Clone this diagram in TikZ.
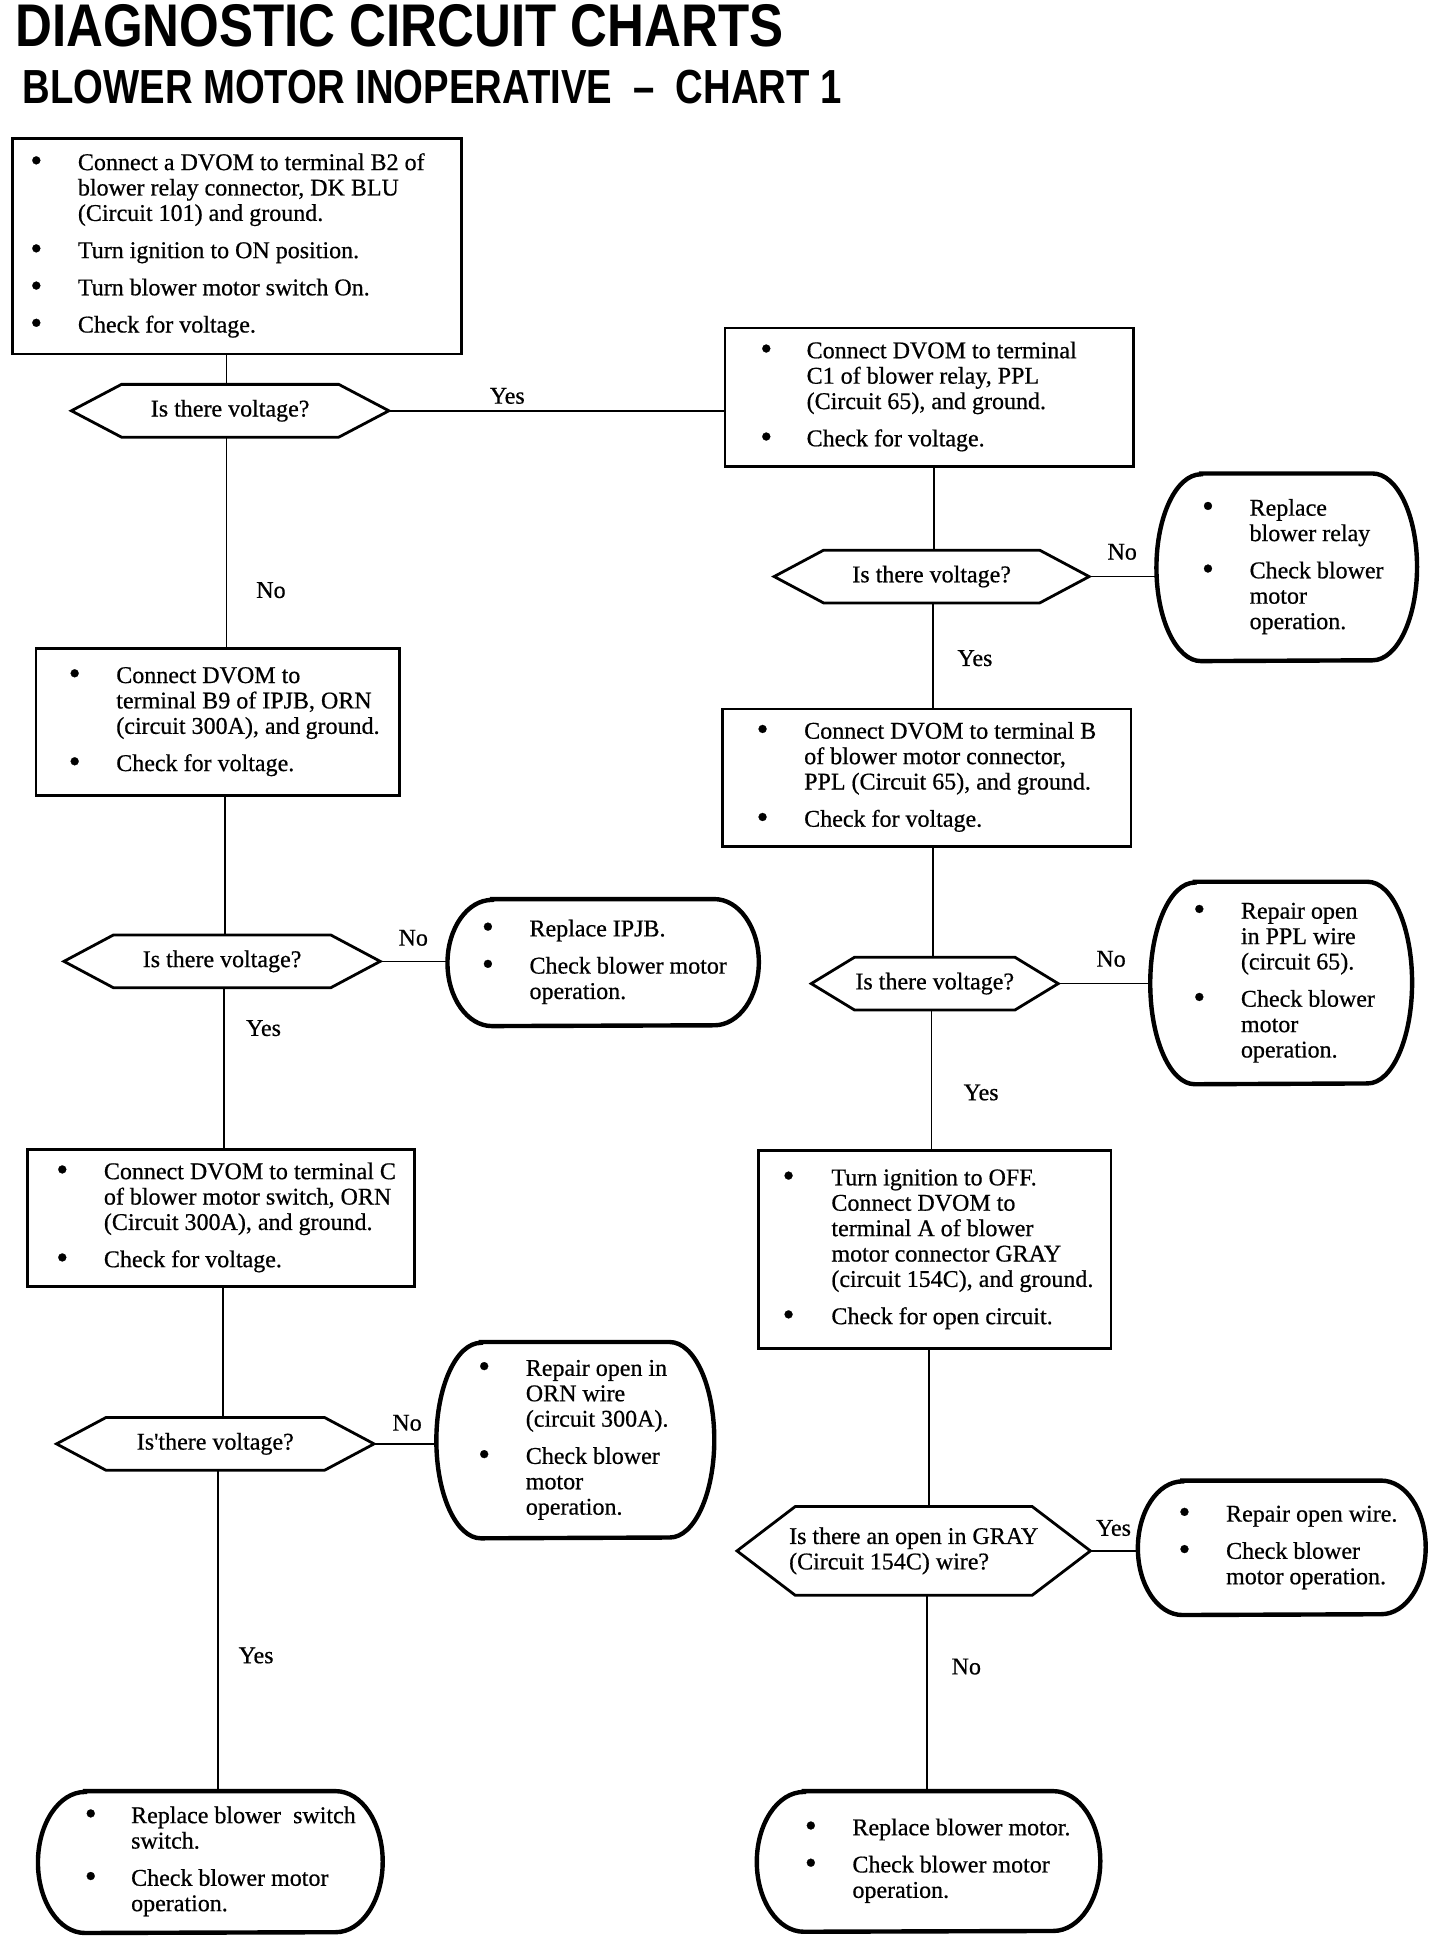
\documentclass[tikz,border=0pt]{standalone}
\usepackage{fontspec}
\setmainfont{Liberation Serif}
\newfontfamily\bodyfont{Liberation Serif}[FakeBold=0.6]
\newfontfamily\titlefont{Liberation Sans}
\usepackage{graphicx}
\usetikzlibrary{calc}
\newlength\dpx \setlength\dpx{0.61855pt}
\newlength\bsep \setlength\bsep{5.9pt}
\newcommand\blist[4]{\makebox[#1\dpx][l]{\hspace*{#2\dpx}\begin{tabular}{@{}p{#3\dpx}@{}l@{}}#4\end{tabular}}}
\newcommand\bul{\raisebox{-0.7pt}{\scalebox{1.4}{\textbullet}}}
\newcommand\hexdraw[2]{\draw[hexline] (#1.west) -- ($(#1.north west)+(#2,0)$) -- ($(#1.north east)+(-#2,0)$) -- (#1.east) -- ($(#1.south east)+(-#2,0)$) -- ($(#1.south west)+(#2,0)$) -- cycle;}
\newcommand\barreldraw[3]{\draw[barline] ($(#1.north west)+(#2,0)$) -- ($(#1.north east)+(-#2,0)$) arc[start angle=90,end angle=-90,x radius=#2,y radius=#3] -- ($(#1.south west)+(#2,0)$) arc[start angle=270,end angle=90,x radius=#2,y radius=#3] -- cycle;}
\newcommand\vconn[3]{\draw[conn] ($(#1.south)+(#3,0)$) coordinate (tmp) -- (tmp |- #2.north);}
\tikzset{
 txt/.style={font=\bodyfont\fontsize{12}{12.7}\selectfont, inner sep=0pt, text=black},
 sz/.style 2 args={minimum width={#1*0.61855pt}, minimum height={#2*0.61855pt}},
 rbox/.style={txt, draw, line width=1.3pt},
 hexnode/.style={txt, align=center},
 barnode/.style={txt},
 conn/.style={line width=0.8pt},
 hexline/.style={line width=1.4pt, line join=miter},
 barline/.style={line width=2.2pt},
 lbl/.style={txt},
}
\begin{document}
\begin{tikzpicture}[x=0.61855pt,y=0.61855pt]
\fill[white] (0,0) rectangle (1164,-1568);
\useasboundingbox (0,0) rectangle (1164,-1568);

% titles
\node[anchor=south west, inner sep=0pt] (t1) at (12,-38) {\resizebox{621\dpx}{34\dpx}{\titlefont\bfseries DIAGNOSTIC CIRCUIT CHARTS}};
\node[anchor=south west, inner sep=0pt] (t2) at (18,-84) {\resizebox{662\dpx}{27\dpx}{\titlefont\bfseries BLOWER MOTOR INOPERATIVE\ \ \textendash\ \ CHART 1}};

% rectangular boxes
\node[rbox, sz={363}{174}] (b1) at (191.5,-199) {\blist{363}{14.6}{38.4}{\bul & Connect a DVOM to terminal B2 of\\ & blower relay connector, DK BLU\\ & (Circuit 101) and ground.\\[\bsep] \bul & Turn ignition to ON position.\\[\bsep] \bul & Turn blower motor switch On.\\[\bsep] \bul & Check for voltage.}};
\node[rbox, sz={330}{112}] (r1) at (751,-321) {\blist{330}{28.6}{37.4}{\bul & Connect DVOM to terminal\\ & C1 of blower relay, PPL\\ & (Circuit 65), and ground.\\[\bsep] \bul & Check for voltage.}};
\node[rbox, sz={294}{119}] (l2) at (176,-583.5) {\blist{294}{26.6}{38.4}{\bul & Connect DVOM to\\ & terminal B9 of IPJB, ORN\\ & (circuit 300A), and ground.\\[\bsep] \bul & Check for voltage.}};
\node[rbox, sz={330}{111}] (r2) at (749,-628.5) {\blist{330}{27.6}{38.4}{\bul & Connect DVOM to terminal B\\ & of blower motor connector,\\ & PPL (Circuit 65), and ground.\\[\bsep] \bul & Check for voltage.}};
\node[rbox, sz={313}{111}] (l3) at (178.5,-984.5) {\blist{313}{23.6}{38.4}{\bul & Connect DVOM to terminal C\\ & of blower motor switch, ORN\\ & (Circuit 300A), and ground.\\[\bsep] \bul & Check for voltage.}};
\node[rbox, sz={285}{160}] (r3) at (755.5,-1010) {\blist{285}{19.6}{39.4}{\bul & Turn ignition to OFF.\\ & Connect DVOM to\\ & terminal A of blower\\ & motor connector GRAY\\ & (circuit 154C), and ground.\\[\bsep] \bul & Check for open circuit.}};

% decisions
\node[hexnode, sz={256}{42}] (d1) at (186,-332) {Is there voltage?};
\hexdraw{d1}{40.5}
\node[hexnode, sz={254}{42}] (dr1) at (753,-466) {Is there voltage?};
\hexdraw{dr1}{40}
\node[hexnode, sz={255}{42}] (dl2) at (179.5,-777) {Is there voltage?};
\hexdraw{dl2}{40}
\node[hexnode, sz={199}{42}] (dr2) at (755.5,-795) {Is there voltage?};
\hexdraw{dr2}{35}
\node[hexnode, sz={256}{42}] (dl3) at (174,-1167) {Is'there voltage?};
\hexdraw{dl3}{40}
\node[hexnode, sz={285}{71}, align=left] (dr4) at (738.5,-1253.5) {Is there an open in GRAY\\(Circuit 154C) wire?};
\hexdraw{dr4}{47}

% rounded end boxes
\node[barnode, sz={210}{151}] (rr1) at (1040,-458.5) {\blist{210}{36.6}{38.4}{\bul & Replace\\ & blower relay\\[\bsep] \bul & Check blower\\ & motor\\ & operation.}};
\barreldraw{rr1}{36}{75.5}
\node[barnode, sz={251}{102}] (rl2) at (487.5,-778) {\blist{251}{27.6}{38.4}{\bul & Replace IPJB.\\[\bsep] \bul & Check blower motor\\ & operation.}};
\barreldraw{rl2}{36}{51}
\node[barnode, sz={211}{163}] (rr2) at (1035.5,-794.5) {\blist{211}{34.6}{38.4}{\bul & Repair open\\ & in PPL wire\\ & (circuit 65).\\[\bsep] \bul & Check blower\\ & motor\\ & operation.}};
\barreldraw{rr2}{36}{81.5}
\node[barnode, sz={224}{158}] (rl3) at (465,-1164) {\blist{224}{33.6}{38.4}{\bul & Repair open in\\ & ORN wire\\ & (circuit 300A).\\[\bsep] \bul & Check blower\\ & motor\\ & operation.}};
\barreldraw{rl3}{36}{79}
\node[barnode, sz={232}{108}] (rr3) at (1036,-1251) {\blist{232}{32.6}{38.4}{\bul & Repair open wire.\\[\bsep] \bul & Check blower\\ & motor operation.}};
\barreldraw{rr3}{36}{54}
\node[barnode, sz={278}{114}] (bl) at (170,-1505) {\blist{278}{37.6}{37.4}{\bul & Replace blower\ \ switch\\ & switch.\\[\bsep] \bul & Check blower motor\\ & operation.}};
\barreldraw{bl}{38}{57}
\node[barnode, sz={277}{113}] (br) at (750.5,-1504.5) {\blist{277}{38.6}{38.4}{\bul & Replace blower motor.\\[\bsep] \bul & Check blower motor\\ & operation.}};
\barreldraw{br}{38}{56.5}

% vertical connectors
\vconn{b1}{d1}{-8.5}
\vconn{d1}{l2}{-3}
\vconn{l2}{dl2}{6}
\vconn{dl2}{l3}{1.5}
\vconn{l3}{dl3}{1.5}
\vconn{dl3}{bl}{2}
\vconn{r1}{dr1}{4}
\vconn{dr1}{r2}{1}
\vconn{r2}{dr2}{5}
\vconn{dr2}{r3}{-2.5}
\vconn{r3}{dr4}{-4.5}
\vconn{dr4}{br}{10.5}

% horizontal connectors
\draw[conn] (d1.east) -- (d1.east -| r1.west);
\draw[conn] (dr1.east) -- (dr1.east -| rr1.west);
\draw[conn] (dl2.east) -- (dl2.east -| rl2.west);
\draw[conn] (dr2.east) -- (dr2.east -| rr2.west);
\draw[conn] (dl3.east) -- (dl3.east -| rl3.west);
\draw[conn] (dr4.east) -- (dr4.east -| rr3.west);

% labels
\node[lbl] (y1) at (410,-320) {Yes};
\node[lbl] (n1) at (219,-477) {No};
\node[lbl] (n2) at (907,-446) {No};
\node[lbl] (y2) at (788,-532) {Yes};
\node[lbl] (n3) at (334,-758) {No};
\node[lbl] (y3) at (213,-831) {Yes};
\node[lbl] (n4) at (898,-775) {No};
\node[lbl] (y4) at (793,-883) {Yes};
\node[lbl] (n5) at (329,-1150) {No};
\node[lbl] (y5) at (900,-1235) {Yes};
\node[lbl] (y6) at (207,-1338) {Yes};
\node[lbl] (n6) at (781,-1347) {No};
\end{tikzpicture}
\end{document}
